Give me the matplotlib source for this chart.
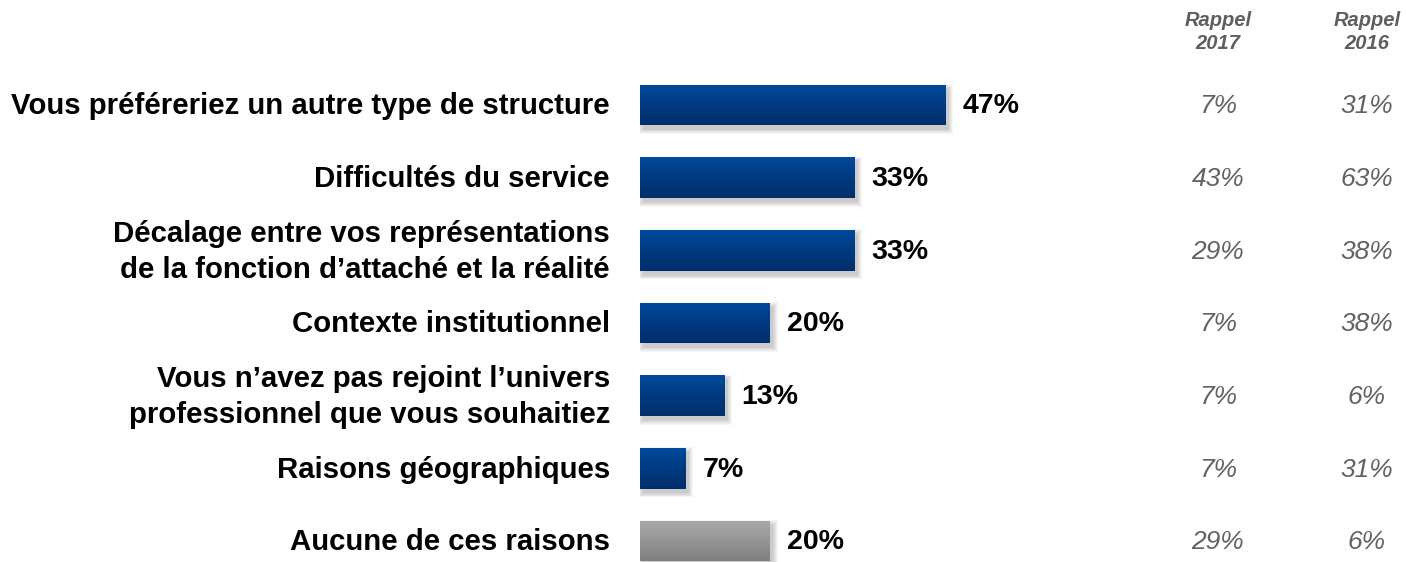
import matplotlib.pyplot as plt
import matplotlib.transforms as mtransforms
import numpy as np
from matplotlib.colors import LinearSegmentedColormap
from matplotlib.patches import Rectangle

categories = [
    "Vous préféreriez un autre type de structure",
    "Difficultés du service",
    "Décalage entre vos représentations\nde la fonction d\u2019attaché et la réalité",
    "Contexte institutionnel",
    "Vous n\u2019avez pas rejoint l\u2019univers\nprofessionnel que vous souhaitiez",
    "Raisons géographiques",
    "Aucune de ces raisons",
]
values = [47, 33, 33, 20, 13, 7, 20]
rappel_2017 = ["7%", "43%", "29%", "7%", "7%", "7%", "29%"]
rappel_2016 = ["31%", "63%", "38%", "38%", "6%", "31%", "6%"]
headers = ["Rappel\n2017", "Rappel\n2016"]

plt.rcParams["font.family"] = ["Liberation Sans", "DejaVu Sans"]

W, H = 1406, 562
fig = plt.figure(figsize=(W / 100, H / 100), dpi=100)

px_per_pct = 6.5
x0 = 640
ax = fig.add_axes([x0 / W, 0, (W - x0) / W, 1])
ax.set_xlim(0, (W - x0) / px_per_pct)
step = (541 - 105) / 6
ax.set_ylim(6 + (H - 541) / step, -105 / step)
ax.axis("off")

blue = LinearSegmentedColormap.from_list("blue", ["#004a9c", "#003a80", "#002f6c"])
grey = LinearSegmentedColormap.from_list("grey", ["#a8a8a8", "#969696", "#808080"])
grad = np.linspace(0, 1, 64).reshape(-1, 1)

y = np.arange(len(categories))
bar_h = 41 / step
bars = ax.barh(y, values, height=bar_h, color="none", edgecolor="none", zorder=3)

dx = 3 / px_per_pct
dy = 4 / step
for i, b in enumerate(bars):
    bx, by = b.get_x(), b.get_y()
    bw, bh = b.get_width(), b.get_height()
    # soft shadow
    for k in range(6):
        s = k * 0.9
        ax.add_patch(Rectangle((bx + dx - s / px_per_pct, by + dy - s / step),
                               bw + 2 * s / px_per_pct, bh + 2 * s / step,
                               facecolor="black", edgecolor="none", alpha=0.035, zorder=1))
    cmap = grey if i == len(categories) - 1 else blue
    im = ax.imshow(grad, cmap=cmap, aspect="auto", extent=(bx, bx + bw, by + bh, by),
                   zorder=4, interpolation="bilinear")
    im.set_clip_path(b)
    ax.text(bx + bw + 17 / px_per_pct, i + 0.02, f"{values[i]}%", ha="left", va="center",
            fontsize=20.5, fontweight="bold", color="black", zorder=5)

label_tr = mtransforms.blended_transform_factory(fig.transFigure, ax.transData)
for i, lab in enumerate(categories):
    ax.text(610 / W, i + 0.02, lab, transform=label_tr, ha="right", va="center",
            fontsize=21.2, fontweight="bold", color="black", linespacing=1.35)

col_x = [1218 / W, 1367 / W]
for cx, vals, hdr in zip(col_x, [rappel_2017, rappel_2016], headers):
    fig.text(cx, 1 - 32 / H, hdr, ha="center", va="center", fontsize=14.5,
             fontweight="bold", fontstyle="italic", color="#5f5f5f", linespacing=1.22)
    for i, v in enumerate(vals):
        ax.text(cx, i + 0.02, v, transform=label_tr, ha="center", va="center",
                fontsize=19, fontstyle="italic", color="#626262")

fig.savefig("out.png", dpi=100)
